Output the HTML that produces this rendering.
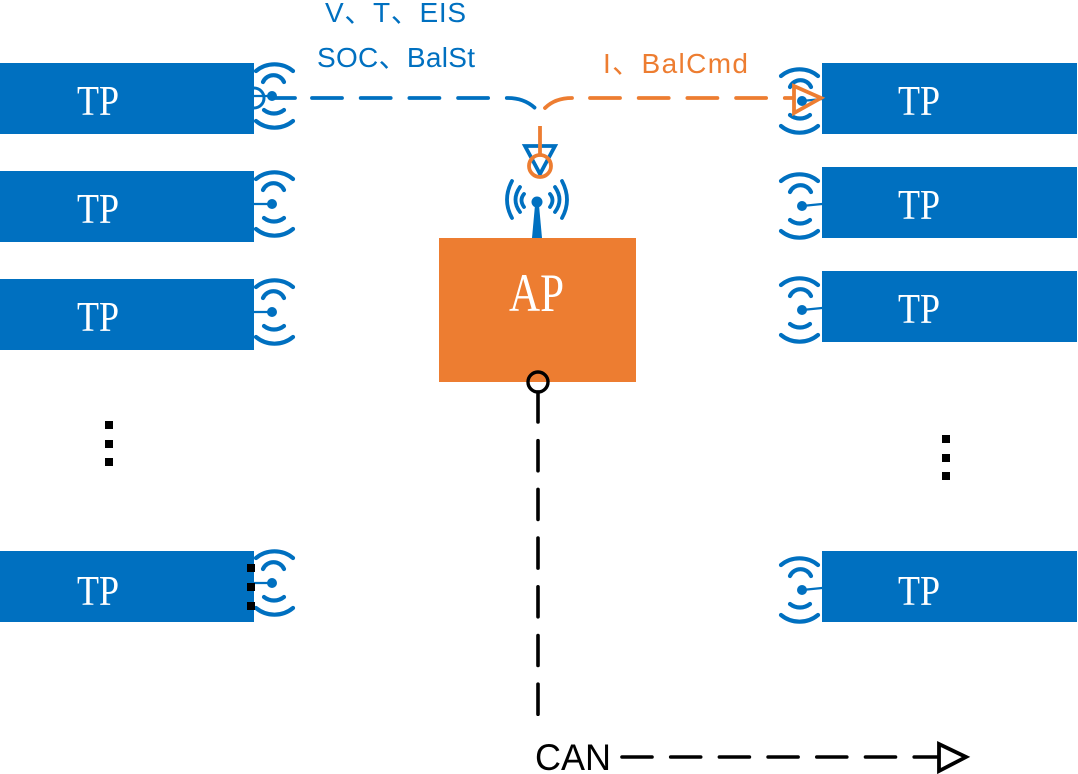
<!DOCTYPE html>
<html><head><meta charset="utf-8"><style>
html,body{margin:0;padding:0;background:#fff}
svg{display:block}
.tp{font-family:"Liberation Serif",serif;fill:#fff;font-size:42px}
.lb{font-family:"Liberation Sans","Noto Sans CJK SC",sans-serif;font-size:28px}
</style></head><body>
<svg width="1078" height="774" viewBox="0 0 1078 774" xmlns="http://www.w3.org/2000/svg">
<defs>
<g id="wl" fill="none" stroke="#0070C0" stroke-width="4.2" stroke-linecap="round">
<path d="M-16 -25A29 29 0 0 1 21 -25"/>
<path d="M-9 -14A11.5 11.5 0 0 1 12 -14"/>
<path d="M-16 25A29 29 0 0 0 21 25"/>
<path d="M-8 14A16 16 0 0 0 12 14"/>
<path d="M-18 0H0" stroke-width="2.2"/><circle r="5" fill="#0070C0" stroke="none"/>
</g>
<g id="wr" fill="none" stroke="#0070C0" stroke-width="4.2" stroke-linecap="round">
<path d="M-21 -25A29 29 0 0 1 16 -25"/>
<path d="M-12 -14A11.5 11.5 0 0 1 9 -14"/>
<path d="M-21 25A29 29 0 0 0 16 25"/>
<path d="M-12 14A16 16 0 0 0 8 14"/>
<path d="M0 0L20 -2" stroke-width="2.2"/><circle r="5" fill="#0070C0" stroke="none"/>
</g>
</defs>
<use href="#wl" x="272" y="96"/><use href="#wl" x="272" y="204"/><use href="#wl" x="272" y="312"/><use href="#wl" x="272" y="583"/>
<use href="#wr" x="802" y="101"/><use href="#wr" x="802" y="206"/><use href="#wr" x="802" y="310"/><use href="#wr" x="802" y="590"/>
<circle cx="254" cy="98" r="10" fill="none" stroke="#0070C0" stroke-width="3"/>
<g fill="#0070C0">
<rect x="0" y="63" width="254" height="71"/><rect x="0" y="171" width="254" height="71"/>
<rect x="0" y="279" width="254" height="71"/><rect x="0" y="551" width="254" height="71"/>
<rect x="822" y="63" width="255" height="71"/><rect x="822" y="167" width="255" height="71"/>
<rect x="822" y="271" width="255" height="71"/><rect x="822" y="551" width="255" height="71"/>
</g>
<rect x="439" y="238" width="197" height="144" fill="#ED7D31"/>
<g class="tp">
<text x="77" y="115" textLength="42" lengthAdjust="spacingAndGlyphs">TP</text>
<text x="77" y="223" textLength="42" lengthAdjust="spacingAndGlyphs">TP</text>
<text x="77" y="331" textLength="42" lengthAdjust="spacingAndGlyphs">TP</text>
<text x="77" y="605" textLength="42" lengthAdjust="spacingAndGlyphs">TP</text>
<text x="898" y="115" textLength="42" lengthAdjust="spacingAndGlyphs">TP</text>
<text x="898" y="219" textLength="42" lengthAdjust="spacingAndGlyphs">TP</text>
<text x="898" y="323" textLength="42" lengthAdjust="spacingAndGlyphs">TP</text>
<text x="898" y="605" textLength="42" lengthAdjust="spacingAndGlyphs">TP</text>
<text x="509" y="311" textLength="55" lengthAdjust="spacingAndGlyphs" style="font-size:54px">AP</text>
</g>
<!-- AP antenna -->
<g fill="none" stroke="#0070C0" stroke-width="3.8" stroke-linecap="round">
<path d="M512 181Q502 200 512 218"/>
<path d="M520 187Q511 200 520 212"/>
<path d="M524 194Q519 200 524 207"/>
<path d="M562 181Q572 200 562 218"/>
<path d="M555 187Q564 200 555 212"/>
<path d="M550 194Q555 200 550 207"/>
</g>
<circle cx="537" cy="202" r="5.5" fill="#0070C0"/>
<path d="M535 205H539L542 238H532Z" fill="#0070C0"/>
<!-- blue link -->
<path d="M525 146H555L540 174Z" fill="none" stroke="#0070C0" stroke-width="3.8"/>
<path d="M272 98H295" fill="none" stroke="#0070C0" stroke-width="3.8" stroke-linecap="round"/>
<path d="M312 98H508Q524 98 535 108" fill="none" stroke="#0070C0" stroke-width="3.8" stroke-linecap="round" stroke-dasharray="30 18.7"/>
<!-- orange link -->
<path d="M545 108Q555 98 572 98" fill="none" stroke="#ED7D31" stroke-width="3.8" stroke-linecap="round"/>
<path d="M590 98H793" fill="none" stroke="#ED7D31" stroke-width="3.8" stroke-linecap="round" stroke-dasharray="30 18.7"/>
<path d="M540 126V156" stroke="#ED7D31" stroke-width="3.8"/>
<circle cx="540" cy="166" r="11" fill="none" stroke="#ED7D31" stroke-width="3.8"/>
<path d="M794 86V113L821 98Z" fill="none" stroke="#ED7D31" stroke-width="3.8"/>
<!-- CAN -->
<circle cx="538" cy="382" r="10" fill="none" stroke="#000" stroke-width="3.4"/>
<path d="M538 392V716" fill="none" stroke="#000" stroke-width="3.6" stroke-linecap="round" stroke-dasharray="30 18.7"/>
<path d="M622 757H938" fill="none" stroke="#000" stroke-width="3.6" stroke-linecap="round" stroke-dasharray="30 18.7"/>
<path d="M939 744V771L966 757Z" fill="none" stroke="#000" stroke-width="3.8"/>
<!-- ellipses -->
<g fill="#000">
<rect x="105" y="421" width="8" height="8"/><rect x="105" y="440" width="8" height="8"/><rect x="105" y="458" width="8" height="8"/>
<rect x="942" y="435" width="8" height="8"/><rect x="942" y="454" width="8" height="8"/><rect x="942" y="472" width="8" height="8"/>
<rect x="247" y="564" width="8" height="8"/><rect x="247" y="583" width="8" height="8"/><rect x="247" y="602" width="8" height="8"/>
</g>
<g class="lb">
<text x="325" y="22" fill="#0070C0" textLength="141" lengthAdjust="spacing">V、T、EIS</text>
<text x="317" y="67" fill="#0070C0" textLength="158" lengthAdjust="spacing">SOC、BalSt</text>
<text x="603" y="73" fill="#ED7D31" textLength="145" lengthAdjust="spacing">I、BalCmd</text>
<text x="535" y="770" fill="#000" textLength="76" lengthAdjust="spacingAndGlyphs" style="font-size:37px">CAN</text>
</g>
</svg>
</body></html>
